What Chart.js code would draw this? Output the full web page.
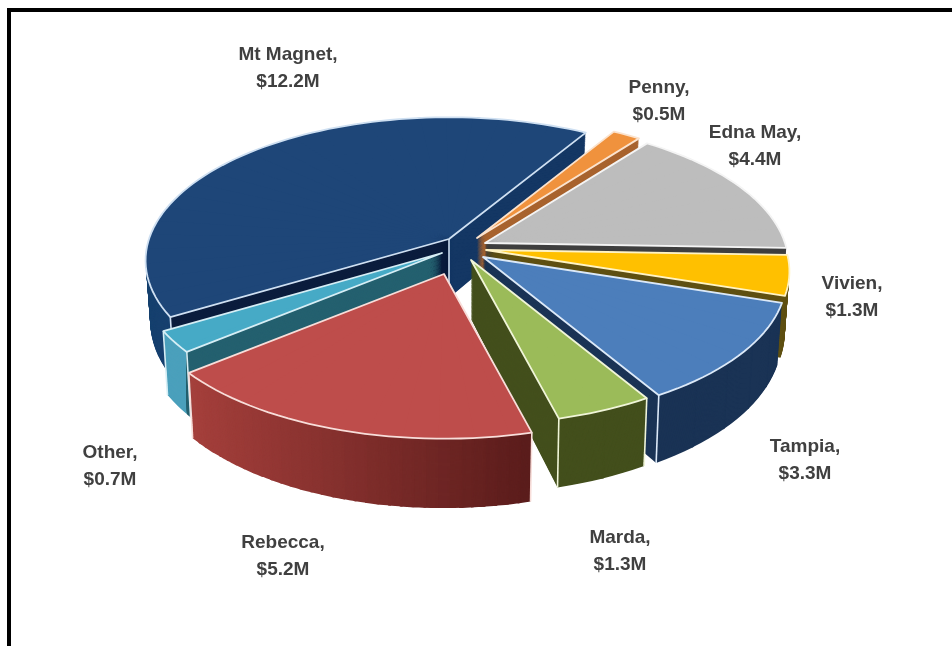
<!DOCTYPE html>
<html>
<head>
<meta charset="utf-8">
<style>
html,body{margin:0;padding:0;background:#fff;overflow:hidden}
#frame{position:absolute;left:7px;top:8px;width:1000px;height:700px;border:4px solid #000;background:#fff}
canvas{position:absolute;left:0;top:0}
</style>
<script src="https://cdn.jsdelivr.net/npm/chart.js@4"></script>
</head>
<body>
<div id="frame"></div>
<canvas id="c" width="952" height="646"></canvas>
<script>
// ---- data ----
const categories = ['Mt Magnet','Penny','Edna May','Vivien','Tampia','Marda','Rebecca','Other'];
const values = [12.2,0.5,4.4,1.3,3.3,1.3,5.2,0.7];

// ---- style ----
const topColors  = ['#1E4678','#F0923D','#BDBDBD','#FFC000','#4C7EBB','#9BBB59','#BE4D4B','#46AAC6'];
const edgeColors = ['#CFE0F2','#FBE3CE','#F4F4F4','#FFF3C4','#DCE9F8','#F0F5D8','#F8DEDA','#D6EEF5'];
const wallBands  = [
  [['s','#17406F'],['a','#0B1D3D'],[null,'#143764']],
  [[null,'#A8632E']],
  [[null,'#3F3F3F']],
  [[null,'#5F5012']],
  [[null,'#1A3355']],
  [[null,'#434F1C']],
  null,
  [['s','#4BA0BC'],[null,'#24606F']]
];
const gradientWall = [[165,64,60],[90,28,27]];
const drawOrder = [0,1,2,3,4,5,7,6];
const cornerEdges = [['s','a'],[],[],[],['e'],['s','e'],['s','e'],['s','e']];
const shiftX = [-18,10,18,19,16,4,-23,-25];
const shiftY = [-9,-10,-5,2,9,12,26,5];
const labelX = [288,659,755,852,805,620,283,110];
const labelY = [55,88,133,284,447,538,543,453];
const view = {cx:467,cy:248,rx:300,ry:140,persp:0.15,depth:59,lean:0.015};
const DEG = Math.PI/180;

function project(i,X,Y,z){
  const s = 1/(1-view.persp*Y);
  let x = view.cx + view.rx*X*s;
  let y = view.cy + view.ry*Y*s;
  x = view.cx + (x-view.cx)*(1-view.lean*z);
  y += view.depth*z*s;
  return [x+shiftX[i], y+shiftY[i]];
}
function atAngle(i,ang,z){ return project(i,Math.cos(ang),Math.sin(ang),z); }
function corners(i,el,z){
  return {a:project(i,0,0,z), s:atAngle(i,el.startAngle,z), e:atAngle(i,el.endAngle,z)};
}
// Map the library's arc (el) from its own circle onto the tilted pie, one narrow sector at a time.
function applySector(ctx,i,el,a0,a1,z){
  const R = el.outerRadius, S0=[el.x,el.y];
  const S1=[el.x+R*Math.cos(a0),el.y+R*Math.sin(a0)];
  const S2=[el.x+R*Math.cos(a1),el.y+R*Math.sin(a1)];
  const A=project(i,0,0,z), B=atAngle(i,a0,z), C=atAngle(i,a1,z);
  const ux=S1[0]-S0[0],uy=S1[1]-S0[1],vx=S2[0]-S0[0],vy=S2[1]-S0[1];
  const px=B[0]-A[0],py=B[1]-A[1],qx=C[0]-A[0],qy=C[1]-A[1];
  const det=ux*vy-uy*vx;
  const a=(px*vy-qx*uy)/det, m=(qx*ux-px*vx)/det, b=(py*vy-qy*uy)/det, d=(qy*ux-py*vx)/det;
  const e=A[0]-a*S0[0]-m*S0[1], f=A[1]-b*S0[0]-d*S0[1];
  ctx.transform(a,b,m,d,e,f);
}
function drawSector(ctx,i,el,a0,a1,z,fill,pad){
  const keep = {o:el.options,s:el.startAngle,e:el.endAngle,c:el.circumference};
  el.options = Object.assign(Object.create(keep.o),{backgroundColor:fill,borderWidth:0});
  // the map is fitted on a0..a1; the painted arc overlaps its neighbour so no seams show
  el.startAngle = Math.max(keep.s,a0-pad);
  el.endAngle = Math.min(keep.e,a1+pad);
  el.circumference = el.endAngle-el.startAngle;
  ctx.save();
  applySector(ctx,i,el,a0,a1,z);
  el.draw(ctx);
  ctx.restore();
  el.options=keep.o; el.startAngle=keep.s; el.endAngle=keep.e; el.circumference=keep.c;
}
function sectors(el,stepDeg){
  const n = Math.max(1,Math.ceil((el.endAngle-el.startAngle)/(stepDeg*DEG)));
  const out=[];
  for(let k=0;k<n;k++) out.push([el.startAngle+(el.endAngle-el.startAngle)*k/n, el.startAngle+(el.endAngle-el.startAngle)*(k+1)/n]);
  return out;
}
function drawWall(ctx,i,el,colorFor,stepDeg){
  const steps = Math.ceil(view.depth*1.25);
  const secs = sectors(el,stepDeg);
  for(let k=steps;k>=0;k--){
    secs.forEach(([a0,a1])=>drawSector(ctx,i,el,a0,a1,k/steps,colorFor(a0,a1),0.004));
  }
}
function strokeFace(ctx,i,el){
  ctx.beginPath();
  let p = project(i,0,0,0); ctx.moveTo(p[0],p[1]);
  sectors(el,2).forEach(([a0,a1],k)=>{
    if(k===0){ p=atAngle(i,a0,0); ctx.lineTo(p[0],p[1]); }
    p=atAngle(i,a1,0); ctx.lineTo(p[0],p[1]);
  });
  ctx.closePath();
  ctx.strokeStyle=edgeColors[i]; ctx.lineWidth=1.8; ctx.lineJoin='round';
  ctx.stroke();
}
const pie3d = {
  id:'pie3d',
  beforeDatasetsDraw(chart){
    const ctx = chart.ctx, arcs = chart.getDatasetMeta(0).data;
    drawOrder.forEach(i=>{
      const el = arcs[i];
      const top = corners(i,el,0), bot = corners(i,el,1);
      if(wallBands[i]){
        let left = 0;
        wallBands[i].forEach(([key,color])=>{
          const right = key ? top[key][0] : 952;
          ctx.save();
          ctx.beginPath(); ctx.rect(left,0,right-left,646); ctx.clip();
          drawWall(ctx,i,el,()=>color,10);
          ctx.restore();
          left = right;
        });
      } else {
        const xL=top.e[0], xR=top.s[0];
        drawWall(ctx,i,el,(a0,a1)=>{
          const t=Math.min(1,Math.max(0,(atAngle(i,(a0+a1)/2,0)[0]-xL)/(xR-xL)));
          const c=gradientWall[0].map((v,n)=>Math.round(v+(gradientWall[1][n]-v)*t));
          return 'rgb('+c.join(',')+')';
        },2);
      }
      ctx.save();
      ctx.strokeStyle = edgeColors[i]; ctx.lineWidth = 1.6;
      cornerEdges[i].forEach(k=>{
        ctx.beginPath(); ctx.moveTo(top[k][0],top[k][1]); ctx.lineTo(bot[k][0],bot[k][1]); ctx.stroke();
      });
      ctx.restore();
      sectors(el,6).forEach(([a0,a1])=>drawSector(ctx,i,el,a0,a1,0,topColors[i],0.04));
      strokeFace(ctx,i,el);
    });
    return false;
  },
  afterDraw(chart){
    const ctx = chart.ctx;
    ctx.save();
    ctx.font = 'bold 19px "Liberation Sans", Arial, sans-serif';
    ctx.fillStyle = '#404040';
    ctx.textAlign = 'center';
    ctx.textBaseline = 'middle';
    categories.forEach((name,i)=>{
      ctx.fillText(name+',',labelX[i],labelY[i]);
      ctx.fillText('$'+values[i].toFixed(1)+'M',labelX[i],labelY[i]+27);
    });
    ctx.restore();
  }
};
new Chart(document.getElementById('c'),{
  type:'pie',
  data:{labels:categories,datasets:[{data:values,backgroundColor:topColors,borderColor:edgeColors,borderWidth:0}]},
  options:{
    responsive:false,
    animation:false,
    rotation:-121,
    plugins:{legend:{display:false},tooltip:{enabled:false}}
  },
  plugins:[pie3d]
});
</script>
</body>
</html>
